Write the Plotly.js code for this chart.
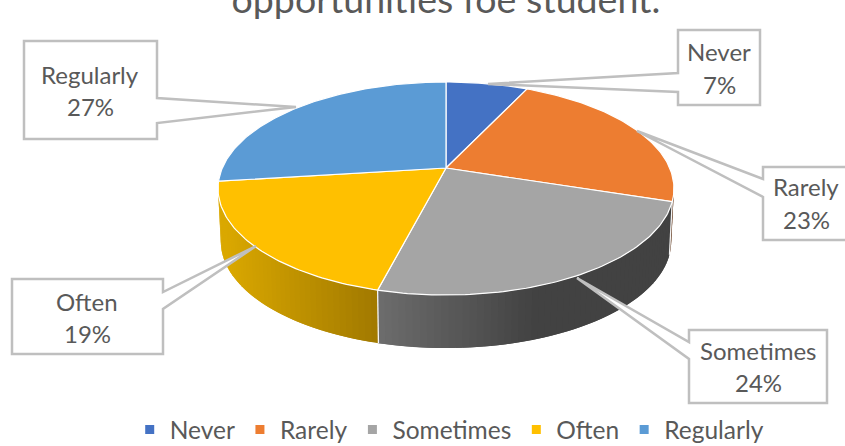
<!DOCTYPE html>
<html>
<head>
<meta charset="utf-8">
<script src="https://cdn.plot.ly/plotly-3.0.1.min.js"></script>
<style>html,body{margin:0;padding:0;background:#fff;overflow:hidden}#chart{width:845px;height:446px}</style>
</head>
<body>
<div id="chart"></div>
<script>
// ---- data ----
var categories = ['Never', 'Rarely', 'Sometimes', 'Often', 'Regularly'];
var percents = [7, 23, 24, 19, 27];
var colors = ['#4472C4', '#ED7D31', '#A5A5A5', '#FFC000', '#5B9BD5'];
var titleText = 'opportunities foe student.';

// ---- projection of the tilted pie (axes are in window pixels) ----
var cx = 446, cy = 168, A = 223.7, B = 102.6, p = 0.1925;
var baseY = 221, baseA = 221, baseB = 102.6;
function pt(deg, base) {
  var t = deg * Math.PI / 180, u = Math.sin(t), v = -Math.cos(t), d = 1 - p * v;
  return base ? [cx + baseA * u / d, baseY + baseB * v / d] : [cx + A * u / d, cy + B * v / d];
}
function mix(a, b, f) {
  f = Math.max(0, Math.min(1, f));
  return 'rgb(' + [0, 1, 2].map(function (i) { return Math.round(a[i] + (b[i] - a[i]) * f); }).join(',') + ')';
}
// side-wall shading: [rgb at left x, rgb at right x, left x, right x]
var sideShade = {
  1: [[90, 48, 20], [90, 48, 20], 0, 845],
  2: [[108, 108, 108], [66, 66, 66], 380, 535],
  3: [[218, 168, 0], [160, 120, 0], 225, 380],
  4: [[60, 100, 140], [60, 100, 140], 0, 845]
};

var total = percents.reduce(function (a, b) { return a + b; }, 0);
var edges = [0];
percents.forEach(function (v, i) { edges.push(edges[i] + v / total * 360); });

var traces = [];
var visFrom = Math.acos(-p) * 180 / Math.PI, visTo = 360 - visFrom;

// side walls as narrow shaded strips; each strip runs under the next one so no hairlines show
percents.forEach(function (v, i) {
  var a = Math.max(edges[i], visFrom), b = Math.min(edges[i + 1], visTo);
  if (b <= a) return;
  var shade = sideShade[i], n = Math.ceil((b - a) / 1.5), step = (b - a) / n;
  for (var k = 0; k < n; k++) {
    var d0 = a + step * k, d1 = Math.min(b, a + step * (k + 2));
    var t0 = pt(d0), t1 = pt(d1), b0 = pt(d0, true), b1 = pt(d1, true);
    var f = (pt(d0 + step / 2)[0] - shade[2]) / (shade[3] - shade[2]);
    var col = mix(shade[0], shade[1], f);
    traces.push({
      type: 'scatter', mode: 'lines', fill: 'toself', fillcolor: col,
      x: [t0[0], t1[0], b1[0], b0[0], t0[0]], y: [t0[1], t1[1], b1[1], b0[1], t0[1]],
      line: { color: col, width: 0 }, hoverinfo: 'skip', showlegend: false
    });
  }
});

// seams between wall sections
edges.slice(1, -1).forEach(function (e) {
  if (e < visFrom || e > visTo) return;
  var t = pt(e), b = pt(e, true);
  traces.push({ type: 'scatter', mode: 'lines', x: [t[0], b[0]], y: [t[1], b[1]],
    line: { color: '#f4f4f4', width: 1.3 }, hoverinfo: 'skip', showlegend: false });
});

// top face slices
percents.forEach(function (v, i) {
  var xs = [cx], ys = [cy];
  for (var d = edges[i]; d < edges[i + 1]; d += 1) { var q = pt(d); xs.push(q[0]); ys.push(q[1]); }
  var e = pt(edges[i + 1]); xs.push(e[0], cx); ys.push(e[1], cy);
  traces.push({
    type: 'scatter', mode: 'lines', fill: 'toself', fillcolor: colors[i], x: xs, y: ys,
    line: { color: '#ffffff', width: 1.2 }, name: categories[i], hoverinfo: 'name', showlegend: false
  });
});

// legend entries
categories.forEach(function (c, i) {
  traces.push({ type: 'scatter', mode: 'markers', x: [null], y: [null], name: c,
    marker: { symbol: 'square', size: 9, color: colors[i] }, hoverinfo: 'skip' });
});

// ---- callouts: box [left, top, right, bottom], tip [x,y], attach side and offsets ----
var boxes = [
  { b: [678, 30, 760, 105], tip: [488, 84], side: 'L', at: [73, 92], tx: 719, ty: [51.5, 84.5] },
  { b: [763, 167, 852, 240], tip: [637, 131], side: 'L', at: [179, 197], tx: 806, ty: [186.5, 219.5] },
  { b: [689, 330, 827, 403], tip: [577, 278], side: 'L', at: [342, 359], tx: 758, ty: [350.5, 382.5] },
  { b: [12, 279, 163, 354], tip: [256, 246], side: 'R', at: [292, 309], tx: 87, ty: [301.5, 333.5] },
  { b: [24, 41, 157, 139], tip: [296, 107], side: 'R', at: [98, 123], tx: 90, ty: [74, 106] }
];
var shapes = boxes.map(function (c) {
  var l = c.b[0], t = c.b[1], r = c.b[2], bt = c.b[3], d;
  if (c.side === 'L') {
    d = 'M' + l + ',' + t + 'L' + r + ',' + t + 'L' + r + ',' + bt + 'L' + l + ',' + bt +
        'L' + l + ',' + c.at[1] + 'L' + c.tip[0] + ',' + c.tip[1] + 'L' + l + ',' + c.at[0] + 'Z';
  } else {
    d = 'M' + l + ',' + t + 'L' + r + ',' + t + 'L' + r + ',' + c.at[0] + 'L' + c.tip[0] + ',' + c.tip[1] +
        'L' + r + ',' + c.at[1] + 'L' + r + ',' + bt + 'L' + l + ',' + bt + 'Z';
  }
  return { type: 'path', path: d, xref: 'x', yref: 'y', fillcolor: '#ffffff', layer: 'above',
    line: { color: '#bfbfbf', width: 2.5 } };
});
var annotations = [];
boxes.forEach(function (c, i) {
  [categories[i], percents[i] + '%'].forEach(function (s, j) {
    annotations.push({ xref: 'x', yref: 'y', x: c.tx, y: c.ty[j], text: s, showarrow: false,
      xanchor: 'center', yanchor: 'middle', font: { family: 'Lato, sans-serif', size: 24, color: '#595959' } });
  });
});

var layout = {
  width: 845, height: 446, margin: { l: 0, r: 0, t: 0, b: 0, autoexpand: false },
  paper_bgcolor: '#ffffff', plot_bgcolor: '#ffffff',
  title: { text: titleText, x: 0.5278, xanchor: 'center', y: 1, yanchor: 'bottom', yref: 'paper',
    pad: { b: -13 }, font: { family: 'Lato, sans-serif', size: 37.5, color: '#595959' } },
  xaxis: { range: [0, 845], visible: false, fixedrange: true },
  yaxis: { range: [446, 0], visible: false, fixedrange: true },
  shapes: shapes, annotations: annotations,
  legend: { orientation: 'h', x: 0.1535, xanchor: 'left', y: 0.037, yanchor: 'middle',
    bgcolor: 'rgba(0,0,0,0)', font: { family: 'Lato, sans-serif', size: 24.5, color: '#595959' } },
  hovermode: 'closest'
};
Plotly.newPlot('chart', traces, layout, { displayModeBar: false, responsive: false });
</script>
</body>
</html>
